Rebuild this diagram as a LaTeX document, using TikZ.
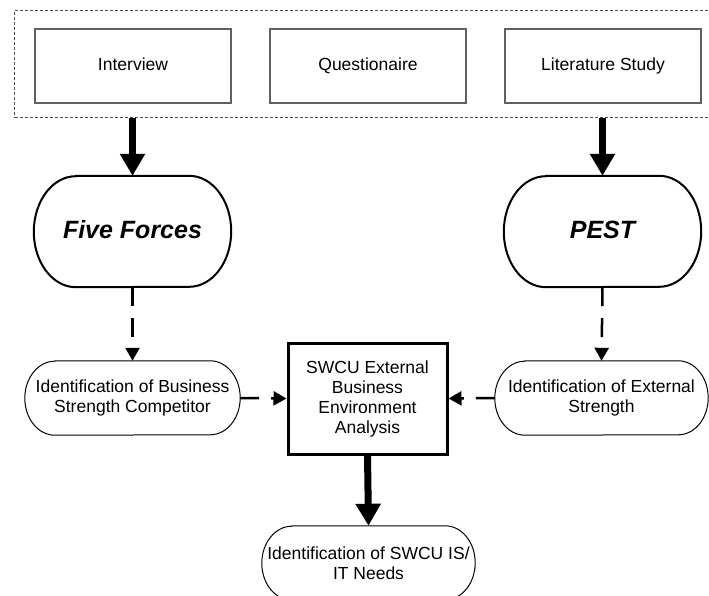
\documentclass[tikz,border=0pt]{standalone}
\usepackage{fontspec}
\setmainfont{Liberation Sans}
\usetikzlibrary{arrows.meta}

% capsule outline around a named node: flat top and bottom, half-ellipse ends
% #1 node name, #2 end radius, #3 half height, #4 line style
\newcommand\capsuleoutline[4]{%
  \draw[#4] ([xshift=#2]#1.north west) -- ([xshift=-#2]#1.north east)
    arc[start angle=90, end angle=-90, x radius=#2, y radius=#3]
    -- ([xshift=#2]#1.south west)
    arc[start angle=270, end angle=90, x radius=#2, y radius=#3] -- cycle;}

\begin{document}
\begin{tikzpicture}[x=1pt, y=-1pt,
  every node/.style={font=\fontsize{17.5}{20}\selectfont, align=center, inner sep=0pt},
  gatherbox/.style={draw=black!70, line width=1pt, dash pattern=on 3pt off 2pt},
  srcbox/.style={draw=black!62, line width=1.3pt, minimum width=196pt, minimum height=74pt,
    text height=12.5pt, text depth=3.5pt},
  method/.style={minimum width=197pt, minimum height=111pt, text height=18pt, text depth=4pt,
    font=\fontsize{25}{28}\selectfont\bfseries\itshape},
  ident/.style={minimum height=74pt},
  mainbox/.style={draw, line width=3pt, minimum width=159pt, minimum height=111pt},
  bigarrow/.style={line width=7pt, -{Triangle[width=24pt, length=22pt]}},
  dasharrow/.style={line width=2.5pt, dash pattern=on 19pt off 12pt,
    -{Triangle[width=14pt, length=13pt]}},
]
\useasboundingbox (0,0) rectangle (709,596);

% data gathering methods
\node[gatherbox, minimum width=715.5pt, minimum height=107.5pt] (gather) at (372.25,64.25) {};
\node[srcbox] (interview) at (133,66) {Interview};
\node[srcbox] (quest) at (368,66) {Questionaire};
\node[srcbox] (lit) at (603,66) {Literature Study};

% analysis frameworks
\node[method] (ff) at (132.5,231.5) {Five Forces};
\node[method] (pest) at (602.5,231.5) {PEST};
\capsuleoutline{ff}{42pt}{55.5pt}{line width=2pt}
\capsuleoutline{pest}{42pt}{55.5pt}{line width=2pt}

% identification results
\node[ident, minimum width=215pt] (bsc) at (132.5,398) {Identification of Business\\Strength Competitor};
\node[ident, minimum width=213pt] (ext) at (601.5,398) {Identification of External\\Strength};
\node[mainbox] (swcu) at (367.5,398.5) {SWCU External\\Business\\Environment\\Analysis};
\node[ident, minimum width=213pt] (needs) at (368.5,563) {Identification of SWCU IS/\\IT Needs};
\capsuleoutline{bsc}{30pt}{37pt}{line width=1pt}
\capsuleoutline{ext}{30pt}{37pt}{line width=1pt}
\capsuleoutline{needs}{30pt}{37pt}{line width=1pt}

% connectors
\draw[bigarrow] (gather.south -| ff.north) -- (ff.north);
\draw[bigarrow] (gather.south -| pest.north) -- (pest.north);
\draw[dasharrow] (ff.south) -- (bsc.north);
\draw[dasharrow] (pest.south) -- (ext.north);
\draw[dasharrow] (bsc.east) -- (swcu.west);
\draw[dasharrow] (ext.west) -- (swcu.east);
\draw[bigarrow] (swcu.south) -- (needs.north);
\end{tikzpicture}
\end{document}
